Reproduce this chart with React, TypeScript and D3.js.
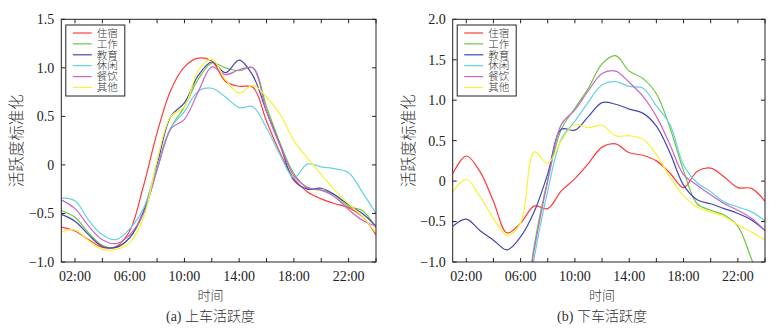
import React from 'react';
import * as d3 from 'd3';

// ---------- data ----------
const hours = [1, 2, 3, 4, 5, 6, 7, 8, 9, 10, 11, 12, 13, 14, 15, 16, 17, 18, 19, 20, 21, 22, 23, 24];
const xTickHours = [2, 4, 6, 8, 10, 12, 14, 16, 18, 20, 22, 24];
const xLabelHours = [2, 6, 10, 14, 18, 22];
const seriesNames = ['住宿', '工作', '教育', '休闲', '餐饮', '其他'];
const seriesColors = ['#ff3b3b', '#6cc63f', '#4347b0', '#62d3e3', '#c965c9', '#f7f236'];

// (a) boarding activity
const boardLodging = [-0.64, -0.68, -0.77, -0.85, -0.84, -0.68, -0.22, 0.33, 0.77, 1.01, 1.10, 1.07, 0.86, 0.81, 0.80, 0.45, 0.12, -0.14, -0.28, -0.35, -0.40, -0.44, -0.53, -0.72];
const boardWork = [-0.47, -0.54, -0.70, -0.83, -0.85, -0.75, -0.50, -0.05, 0.38, 0.60, 0.88, 1.05, 1.00, 0.97, 1.00, 0.60, 0.22, -0.09, -0.24, -0.26, -0.31, -0.43, -0.47, -0.65];
const boardEducation = [-0.51, -0.58, -0.72, -0.84, -0.85, -0.75, -0.48, 0.00, 0.50, 0.64, 0.92, 1.06, 0.95, 1.08, 0.92, 0.55, 0.20, -0.16, -0.25, -0.24, -0.31, -0.41, -0.50, -0.63];
const boardLeisure = [-0.34, -0.37, -0.57, -0.72, -0.77, -0.66, -0.45, -0.02, 0.38, 0.55, 0.76, 0.79, 0.70, 0.59, 0.60, 0.38, 0.10, -0.13, 0.01, -0.02, -0.04, -0.08, -0.28, -0.50];
const boardDining = [-0.36, -0.45, -0.63, -0.77, -0.81, -0.72, -0.50, -0.05, 0.37, 0.47, 0.75, 1.01, 0.93, 0.98, 1.00, 0.55, 0.20, -0.11, -0.23, -0.26, -0.33, -0.46, -0.57, -0.63];
const boardOther = [-0.69, -0.67, -0.78, -0.87, -0.87, -0.80, -0.55, 0.05, 0.50, 0.60, 0.97, 1.09, 0.88, 0.74, 0.82, 0.70, 0.52, 0.25, 0.07, -0.10, -0.26, -0.40, -0.53, -0.70];

// (b) alighting activity
const alightLodging = [0.09, 0.31, 0.12, -0.25, -0.64, -0.52, -0.31, -0.34, -0.12, 0.03, 0.22, 0.42, 0.46, 0.35, 0.32, 0.25, 0.10, -0.08, 0.12, 0.16, 0.05, -0.08, -0.09, -0.25];
const alightWork = [-2.2, -2.2, -2.2, -2.2, -2.2, -1.9, -0.80, 0.02, 0.64, 0.90, 1.15, 1.45, 1.55, 1.36, 1.27, 1.08, 0.66, 0.13, -0.28, -0.36, -0.42, -0.56, -0.96, -1.4];
const alightEducation = [-0.56, -0.47, -0.61, -0.73, -0.85, -0.69, -0.38, 0.09, 0.64, 0.63, 0.80, 0.97, 0.95, 0.89, 0.84, 0.68, 0.35, -0.05, -0.23, -0.28, -0.34, -0.40, -0.48, -0.61];
const alightLeisure = [-2.2, -2.2, -2.2, -2.2, -2.2, -2.0, -0.95, -0.12, 0.52, 0.74, 0.98, 1.19, 1.23, 1.17, 1.15, 0.93, 0.70, 0.20, -0.02, -0.13, -0.26, -0.32, -0.38, -0.49];
const alightDining = [-2.2, -2.2, -2.2, -2.2, -2.2, -1.9, -0.85, 0.00, 0.70, 0.88, 1.12, 1.33, 1.36, 1.22, 1.05, 0.80, 0.45, 0.08, -0.05, -0.17, -0.28, -0.36, -0.46, -0.61];
const alightOther = [-0.13, 0.02, -0.19, -0.46, -0.67, -0.52, 0.36, 0.22, 0.50, 0.70, 0.66, 0.69, 0.56, 0.56, 0.52, 0.33, 0.05, -0.18, -0.32, -0.38, -0.44, -0.54, -0.63, -0.73];

const yTicksA = [-1, -0.5, 0, 0.5, 1, 1.5];
const yTicksB = [-1, -0.5, 0, 0.5, 1, 1.5, 2];

const yAxisTitle = '活跃度标准化';
const xAxisTitle = '时间';
const captionA = '(a) 上车活跃度';
const captionB = '(b) 下车活跃度';

// ---------- drawing ----------
const W = 777;
const H = 328;
const serif = '"Liberation Serif", "Times New Roman", "Noto Sans CJK SC", serif';
const ink = '#222';
const softInk = '#333';

const fmtY = (v: number) => {
  if (v === 0) return '0';
  const s = Math.abs(v).toFixed(1);
  return v < 0 ? '\u2212' + s : s;
};
const fmtX = (h: number) => (h < 10 ? '0' + h : '' + h) + ':00';

type PanelProps = {
  id: string;
  x0: number; x1: number; y0: number; y1: number;
  yDomain: [number, number];
  yTicks: number[];
  data: number[][];
  caption: string;
  ylabelX: number;
  centerX: number;
};

function Panel(p: PanelProps) {
  const x = d3.scaleLinear().domain([hours[0], hours[hours.length - 1]]).range([p.x0, p.x1]);
  const y = d3.scaleLinear().domain(p.yDomain).range([p.y1, p.y0]);
  const line = d3
    .line<number>()
    .x((_, i) => x(hours[i]))
    .y((d) => y(d))
    .curve(d3.curveCatmullRom.alpha(0.5));
  const tl = 4;
  const legX = p.x0 + 4.5;
  const legY = 25;
  const rowH = 10.9;
  return (
    <g>
      <defs>
        <clipPath id={'clip-' + p.id}>
          <rect x={p.x0} y={p.y0} width={p.x1 - p.x0} height={p.y1 - p.y0} />
        </clipPath>
      </defs>
      <g clipPath={`url(#clip-${p.id})`}>
        {p.data.map((s, k) => (
          <path key={k} d={line(s) || ''} fill="none" stroke={seriesColors[k]} strokeWidth={1.2} />
        ))}
      </g>
      <rect x={p.x0} y={p.y0} width={p.x1 - p.x0} height={p.y1 - p.y0} fill="none" stroke={ink} strokeWidth={1} />
      {xTickHours.map((h) => (
        <g key={'xt' + h}>
          <line x1={x(h)} x2={x(h)} y1={p.y1} y2={p.y1 - tl} stroke={ink} />
          <line x1={x(h)} x2={x(h)} y1={p.y0} y2={p.y0 + tl} stroke={ink} />
        </g>
      ))}
      {xLabelHours.map((h) => (
        <text key={'xl' + h} x={x(h)} y={281} textAnchor="middle" fontFamily={serif} fontSize={14} fill={ink}>
          {fmtX(h)}
        </text>
      ))}
      {p.yTicks.map((v) => (
        <g key={'yt' + v}>
          <line x1={p.x0} x2={p.x0 + tl} y1={y(v)} y2={y(v)} stroke={ink} />
          <line x1={p.x1} x2={p.x1 - tl} y1={y(v)} y2={y(v)} stroke={ink} />
          <text x={p.x0 - 7} y={y(v)} dy="0.35em" textAnchor="end" fontFamily={serif} fontSize={14} fill={ink}>
            {fmtY(v)}
          </text>
        </g>
      ))}
      <text
        transform={`translate(${p.ylabelX},${(p.y0 + p.y1) / 2}) rotate(-90)`}
        textAnchor="middle"
        dy="0.35em"
        fontFamily={serif}
        fontSize={15.5}
        fontWeight={300}
        fill={softInk}
      >
        {yAxisTitle}
      </text>
      <text x={p.centerX} y={300} textAnchor="middle" fontFamily={serif} fontSize={13} fontWeight={300} fill={softInk}>
        {xAxisTitle}
      </text>
      <text x={p.centerX} y={321} textAnchor="middle" fontFamily={serif} fontSize={14} fontWeight={300} fill={softInk}>
        {p.caption}
      </text>
      <rect x={legX} y={legY} width={59} height={71} fill="#fff" stroke={ink} strokeWidth={1} />
      {seriesNames.map((n, k) => (
        <g key={'lg' + n}>
          <line
            x1={legX + 7}
            x2={legX + 26}
            y1={legY + 8 + k * rowH}
            y2={legY + 8 + k * rowH}
            stroke={seriesColors[k]}
            strokeWidth={1.2}
          />
          <text
            x={legX + 31}
            y={legY + 8 + k * rowH}
            dy="0.36em"
            fontFamily={serif}
            fontSize={10.5}
            fontWeight={300}
            fill={softInk}
          >
            {n}
          </text>
        </g>
      ))}
    </g>
  );
}

export default function App() {
  return (
    <svg
      width={W}
      height={H}
      viewBox={`0 0 ${W} ${H}`}
      style={{ position: 'absolute', left: 0, top: 0, background: '#fff' }}
    >
      <rect x={0} y={0} width={W} height={H} fill="#fff" />
      <Panel
        id="a"
        x0={61.3}
        x1={376}
        y0={19.3}
        y1={262}
        yDomain={[-1, 1.5]}
        yTicks={yTicksA}
        data={[boardLodging, boardWork, boardEducation, boardLeisure, boardDining, boardOther]}
        caption={captionA}
        ylabelX={17}
        centerX={210.5}
      />
      <Panel
        id="b"
        x0={452.7}
        x1={765}
        y0={19.3}
        y1={262}
        yDomain={[-1, 2]}
        yTicks={yTicksB}
        data={[alightLodging, alightWork, alightEducation, alightLeisure, alightDining, alightOther]}
        caption={captionB}
        ylabelX={409}
        centerX={602}
      />
    </svg>
  );
}
